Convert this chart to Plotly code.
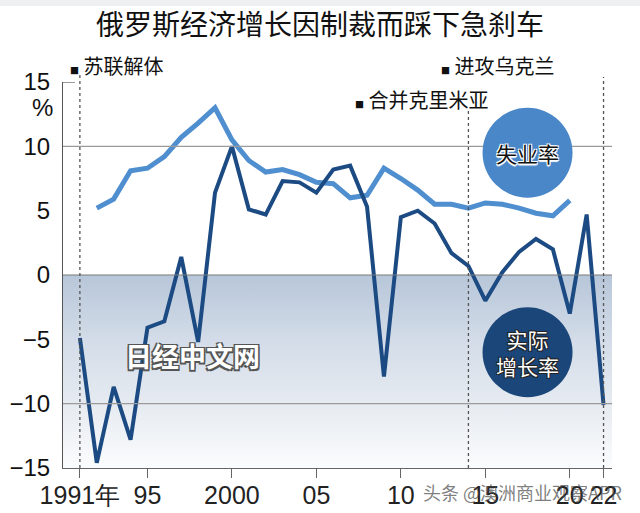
import plotly.graph_objects as go

# ---- data ----
years_gdp = list(range(1991, 2023))
gdp_growth = [-4.9, -14.6, -8.7, -12.8, -4.1, -3.6, 1.4, -5.2, 6.4, 10.0,
              5.1, 4.7, 7.3, 7.2, 6.4, 8.2, 8.5, 5.3, -7.9, 4.5,
              5.0, 4.0, 1.7, 0.7, -2.0, 0.2, 1.8, 2.8, 2.0, -3.0,
              4.7, -10.1]
years_unemp = list(range(1992, 2021))
unemployment = [5.2, 5.9, 8.1, 8.3, 9.2, 10.7, 11.8, 13.0, 10.5, 8.9,
                8.0, 8.2, 7.8, 7.2, 7.1, 6.0, 6.2, 8.3, 7.5, 6.6,
                5.5, 5.5, 5.2, 5.6, 5.5, 5.2, 4.8, 4.6, 5.8]
x_tickvals = [1991, 1995, 2000, 2005, 2010, 2015, 2020, 2022]
x_ticktext = ["1991年", "95", "2000", "05", "10", "15", "20", "22"]
y_tickvals = [-15, -10, -5, 0, 5, 10, 15]
event_years = [1991, 2014, 2022]
title = "俄罗斯经济增长因制裁而踩下急刹车"

X_MIN, X_MAX = 1990, 2022.5
Y_MIN, Y_MAX = -15, 15

CJK = "Noto Sans CJK SC"
NARROW = "Liberation Sans Narrow, Arial Narrow, Liberation Sans, Arial"
C_UNEMP = "#4f8fd0"
C_GDP = "#1c4a82"

fig = go.Figure()

# gradient band below zero
fig.add_trace(go.Scatter(
    x=[X_MIN, X_MAX, X_MAX, X_MIN, X_MIN], y=[0, 0, Y_MIN, Y_MIN, 0],
    mode="lines", line=dict(width=0), fill="toself",
    fillgradient=dict(type="vertical", start=Y_MIN, stop=0,
                      colorscale=[[0, "#fbfcfd"], [0.33, "#e6ebf1"],
                                  [0.66, "#d3dce8"], [1, "#b7c6d9"]]),
    hoverinfo="skip", showlegend=False))

fig.add_trace(go.Scatter(x=years_unemp, y=unemployment, mode="lines",
                         line=dict(color=C_UNEMP, width=5), showlegend=False))
fig.add_trace(go.Scatter(x=years_gdp, y=gdp_growth, mode="lines",
                         line=dict(color=C_GDP, width=4), showlegend=False))

shapes = []
# top gray band
shapes.append(dict(type="rect", xref="paper", yref="paper", x0=-0.2, x1=1.1,
                   y0=1.0 + 76/386, y1=1.3, fillcolor="#eef0f2", line=dict(width=0), layer="below"))
# gridlines
for v, c in [(10, "#9a9a9a"), (-10, "#9a9a9a"), (0, "#7a7a7a")]:
    shapes.append(dict(type="line", xref="paper", yref="y", x0=0, x1=1, y0=v, y1=v,
                       line=dict(color=c, width=1.2), layer="above"))
# tick at 15
shapes.append(dict(type="line", xref="paper", yref="y", x0=0, x1=12/549, y0=15, y1=15,
                   line=dict(color="#555", width=1.2)))
# event dotted lines
tops = {1991: 1 + 7/386, 2014: 1 - 28/386, 2022: 1 + 5/386}
for ey in event_years:
    shapes.append(dict(type="line", xref="x", yref="paper", x0=ey, x1=ey, y0=0, y1=tops[ey],
                       line=dict(color="#555", width=1.3, dash="dot"), layer="above"))
# circles
for yc, col in [(9.5, "#4a87c8"), (-6.0, "#1b4679")]:
    shapes.append(dict(type="circle", xref="x", yref="y", xsizemode="pixel", ysizemode="pixel",
                       xanchor=2017.5, yanchor=yc, x0=-45, x1=45, y0=-45, y1=45,
                       fillcolor=col, line=dict(width=0), layer="above"))

halo_w = "white 1px 1px 0px, white -1px -1px 0px, white 1px -1px 0px, white -1px 1px 0px, white 0px 2px 1px"
halo_d = "#222 1px 1px 0px, #222 -1px -1px 0px, #222 1px -1px 0px, #222 -1px 1px 0px"
halo_g = "#555 1.5px 1.5px 0px, #555 -1.5px -1.5px 0px, #555 1.5px -1.5px 0px, #555 -1.5px 1.5px 0px"

sq = '<span style="font-size:9px">■</span> '
annotations = [
    dict(text=sq + "苏联解体", xref="paper", yref="paper", x=(68-63)/549, y=(468-65)/386,
         xanchor="left", yanchor="middle", showarrow=False, font=dict(family=CJK, size=20, color="#111")),
    dict(text=sq + "进攻乌克兰", xref="paper", yref="paper", x=(439-63)/549, y=(468-65)/386,
         xanchor="left", yanchor="middle", showarrow=False, font=dict(family=CJK, size=20, color="#111")),
    dict(text=sq + "合并克里米亚", xref="paper", yref="paper", x=(353-63)/549, y=(468-99)/386,
         xanchor="left", yanchor="middle", showarrow=False, font=dict(family=CJK, size=20, color="#111")),
    dict(text="%", xref="paper", yref="paper", x=-8/549, y=(468-107)/386,
         xanchor="right", yanchor="middle", showarrow=False, font=dict(family=NARROW, size=24, color="#111")),
    dict(text="失业率", xref="x", yref="y", x=2017.5, y=9.5, showarrow=False,
         xanchor="center", yanchor="middle",
         font=dict(family=CJK, size=21, color="#111", shadow=halo_w)),
    dict(text="实际<br>增长率", xref="x", yref="y", x=2017.5, y=-6.0, showarrow=False,
         xanchor="center", yanchor="middle",
         font=dict(family=CJK, size=21, color="white", shadow=halo_d)),
    dict(text="日经中文网", xref="paper", yref="paper", x=(192-63)/549, y=(468-355)/386,
         xanchor="center", yanchor="middle", showarrow=False,
         font=dict(family=CJK, size=27, color="white", weight="bold", shadow=halo_g)),
    dict(text="头条 @澳洲商业观察APR", xref="paper", yref="paper", x=(522-63)/549, y=(468-492)/386,
         xanchor="center", yanchor="middle", showarrow=False,
         font=dict(family=CJK, size=18, color="rgba(70,70,70,0.7)")),
]

fig.update_layout(
    width=640, height=513,
    margin=dict(l=63, r=28, t=82, b=45),
    paper_bgcolor="white", plot_bgcolor="white",
    title=dict(text=title, x=0.5, xanchor="center", y=1 - 25/513, yanchor="middle",
               font=dict(family=CJK, size=28, color="#111")),
    shapes=shapes, annotations=annotations,
    xaxis=dict(range=[X_MIN, X_MAX], tickvals=x_tickvals, ticktext=x_ticktext, automargin=False,
               showgrid=False, zeroline=False, showline=True, linecolor="#666", linewidth=1.2,
               ticks="outside", ticklen=9, tickcolor="#666", tickwidth=1.2, ticklabelstandoff=-4,
               tickfont=dict(family=NARROW, size=25, color="#222")),
    yaxis=dict(range=[Y_MIN, Y_MAX], tickvals=y_tickvals, showgrid=False, zeroline=False, automargin=False,
               showline=True, linecolor="#555", linewidth=1.2, ticks="", ticklabelstandoff=7,
               tickfont=dict(family=NARROW, size=24, color="#111")),
)

fig.write_html("out.html")
